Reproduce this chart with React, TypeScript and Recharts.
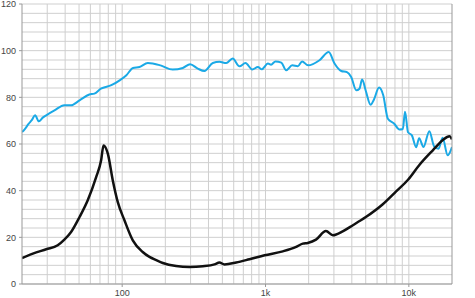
import React from "react";
import { LineChart, Line, XAxis, YAxis, ReferenceLine } from "recharts";

// frequency response (dB SPL)
const splFreq = [
  20, 20.8, 22.3, 23.4, 24.7, 26.2, 27.9, 29.5, 33.7, 39.5, 44, 50.4, 59, 64, 71, 84, 96, 107, 119, 132, 151,
  185, 225, 265, 298, 337, 375, 429, 477, 532, 590, 658, 725, 808, 885, 942, 1040, 1093, 1173, 1289, 1393,
  1535, 1682, 1800, 1980, 2380, 2760, 3030, 3375, 3700, 3960, 4300, 4520, 4720, 5010, 5410, 5700, 6200, 6620,
  7140, 7880, 8600, 9080, 9400, 9870, 10500, 11240, 11800, 12650, 13900, 15000, 16100, 17200, 18650, 20000,
];
const splValues = [
  65.1, 66.2, 68.7, 70.2, 72.3, 69.7, 71.3, 72.3, 74.4, 76.6, 76.6, 78.7, 81.2, 81.6, 83.7, 85.2, 87.3, 89.5,
  92.6, 93.0, 94.7, 93.7, 91.9, 92.6, 94.2, 92.3, 91.3, 94.7, 95.2, 94.7, 96.6, 93.3, 94.7, 91.9, 93.0, 92.0,
  94.5, 94.0, 95.4, 94.9, 91.6, 93.7, 93.3, 95.4, 93.7, 95.9, 99.4, 94.5, 91.3, 90.8, 88.7, 83.0, 83.7, 87.6,
  82.7, 76.8, 79.0, 84.2, 81.0, 70.8, 68.8, 66.2, 66.4, 73.8, 65.0, 63.7, 58.6, 62.5, 58.7, 65.5, 59.0, 58.0,
  62.7, 55.2, 58.7,
];

// impedance (ohm)
const impFreq = [
  20, 23.8, 29.5, 35.5, 39.5, 44, 50.4, 57.5, 65.9, 71.3, 74.1, 79.4, 86, 93.2, 103.7, 118.6, 139, 155, 173,
  192, 238, 295, 365, 441, 477, 517, 624, 773, 985, 1320, 1635, 1820, 1970, 2250, 2640, 2950, 3480, 4070,
  5010, 6580, 8150, 9870, 11800, 14700, 17200, 19200, 20000,
];
const impValues = [
  11.1, 13.0, 14.9, 16.6, 19.0, 22.3, 28.7, 35.9, 45.9, 53.0, 59.4, 55.9, 44.4, 35.1, 27.3, 18.7, 13.7, 11.6,
  10.2, 9.0, 7.7, 7.3, 7.6, 8.4, 9.2, 8.4, 9.2, 10.6, 12.3, 14.0, 15.9, 17.3, 17.6, 19.0, 22.7, 20.9, 22.7,
  25.2, 28.7, 34.2, 39.7, 44.7, 50.9, 57.3, 61.6, 63.3, 62.0,
];

const yTicks = [0, 20, 40, 60, 80, 100, 120];
const xTicks = [100, 1000, 10000];
const gridLevels = [
  0, 4, 8, 12, 16, 20, 24, 28, 32, 36, 40, 44, 48, 52, 56, 60, 64, 68, 72, 76, 80, 84, 88, 92, 96, 100, 104,
  108, 112, 116, 120,
];
const gridFreqs = [
  30, 40, 50, 60, 70, 80, 90, 100, 200, 300, 400, 500, 600, 700, 800, 900, 1000, 2000, 3000, 4000, 5000, 6000,
  7000, 8000, 9000, 10000,
];

const splData = splFreq.map((f, i) => ({ f, v: splValues[i] }));
const impData = impFreq.map((f, i) => ({ f, v: impValues[i] }));

const fmtFreq = (v: number) => (v >= 1000 ? `${v / 1000}k` : `${v}`);

const tickStyle = { fontSize: 9, fill: "#444", fontFamily: "Liberation Sans, Arial, sans-serif" };

export default function App() {
  return (
    <div style={{ width: 475, height: 298 }}>
      <style>{"body{margin:0}"}</style>
      <LineChart width={475} height={298} margin={{ top: 4, right: 0, left: 0, bottom: 0 }}>
        <XAxis
          xAxisId="f"
          type="number"
          dataKey="f"
          scale="log"
          domain={[20, 20000]}
          ticks={xTicks}
          tickFormatter={fmtFreq}
          allowDataOverflow
          height={14}
          tick={tickStyle}
          tickSize={3}
          tickMargin={3}
          stroke="#999"
        />
        <YAxis
          yAxisId="l"
          domain={[0, 120]}
          ticks={yTicks}
          width={22}
          tick={tickStyle}
          tickSize={3}
          tickMargin={3}
          stroke="#999"
          interval={0}
        />
        <YAxis
          yAxisId="r"
          orientation="right"
          domain={[0, 120]}
          ticks={yTicks}
          width={23}
          tick={tickStyle}
          tickSize={3}
          tickMargin={2}
          stroke="#999"
          interval={0}
        />
        {gridLevels.map((g) => (
          <ReferenceLine key={`h${g}`} xAxisId="f" yAxisId="l" y={g} stroke="#cfcfcf" strokeWidth={1} />
        ))}
        {gridFreqs.map((g) => (
          <ReferenceLine key={`v${g}`} xAxisId="f" yAxisId="l" x={g} stroke="#cfcfcf" strokeWidth={1} />
        ))}
        <Line
          xAxisId="f"
          yAxisId="l"
          data={splData}
          dataKey="v"
          type="monotone"
          stroke="#1aa9e6"
          strokeWidth={2}
          dot={false}
          isAnimationActive={false}
        />
        <Line
          xAxisId="f"
          yAxisId="l"
          data={impData}
          dataKey="v"
          type="monotone"
          stroke="#111"
          strokeWidth={2.5}
          dot={false}
          isAnimationActive={false}
        />
      </LineChart>
    </div>
  );
}
